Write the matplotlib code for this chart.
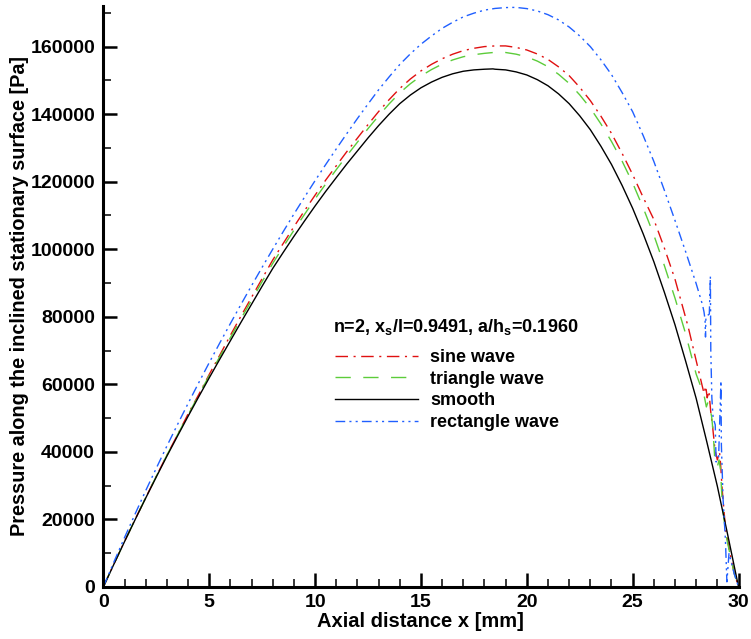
import matplotlib
matplotlib.use("Agg")
import matplotlib.pyplot as plt
from matplotlib.ticker import MultipleLocator

plt.rcParams["font.family"] = ["Liberation Sans", "DejaVu Sans"]
plt.rcParams["font.weight"] = "bold"
plt.rcParams["mathtext.fontset"] = "custom"
plt.rcParams["mathtext.rm"] = "Liberation Sans:bold"
plt.rcParams["mathtext.bf"] = "Liberation Sans:bold"

# smooth surface
x_smooth = [0, 0.5, 1, 1.5, 2, 2.5, 3, 3.5, 4, 4.5, 5, 5.5, 6, 6.5, 7, 7.5, 8, 8.5, 9, 9.5,
            10, 10.5, 11, 11.5, 12, 12.5, 13, 13.5, 14, 14.5, 15, 15.5, 16, 16.5, 17, 17.5,
            18, 18.4, 18.5, 19, 19.5, 20, 20.5, 21, 21.5, 22, 22.5, 23, 23.5, 24, 24.5,
            25, 25.5, 26, 26.5, 27, 27.5, 28, 28.5, 29, 29.5, 30]
p_smooth = [0, 6750, 13400, 19900, 26300, 32550, 38700, 44650, 50500, 56250, 61900, 67450,
            72900, 78350, 83700, 89050, 94300, 99100, 103800, 108350, 112800, 117100,
            121200, 125250, 129100, 132950, 136600, 140000, 143100, 145650, 147800, 149500,
            150900, 151950, 152700, 153100, 153300, 153400, 153300, 153100, 152500, 151600,
            150200, 148400, 146000, 143100, 139500, 135400, 130500, 125100, 118900, 112100,
            104500, 96300, 87200, 77600, 66900, 55800, 43000, 29800, 15100, 0]

# sine wave texture
x_sine = [0, 0.5, 1, 1.5, 2, 2.5, 3, 3.5, 4, 4.5, 5, 5.5, 6, 6.5, 7, 7.5, 8, 8.5, 9, 9.5,
          10, 10.5, 11, 11.5, 12, 12.5, 13, 13.5, 14, 14.5, 15, 15.5, 16, 16.5, 17, 17.5,
          18, 18.5, 19, 19.5, 20, 20.5, 21, 21.5, 22, 22.5, 23, 23.5, 24, 24.5, 25, 25.5,
          26, 26.5, 27, 27.5, 27.66, 28, 28.37, 28.45, 28.52, 28.6, 28.7, 28.76, 28.89,
          29.0, 29.1, 29.15, 29.23, 29.39, 29.6, 29.8, 30]
p_sine = [0, 6800, 13450, 20000, 26400, 32750, 39000, 45000, 51200, 56900, 62900, 68650,
          74500, 80200, 85750, 91300, 96800, 101750, 106650, 111400, 116000, 120450,
          124700, 128900, 132900, 136900, 140750, 144300, 147600, 150400, 152800, 154750,
          156400, 157750, 158800, 159500, 160000, 160200, 160200, 159750, 159000, 157800,
          156200, 154000, 151400, 147950, 144000, 139400, 134300, 128400, 122100, 115300,
          108800, 100300, 91100, 79800, 76000, 67000, 57300, 59500, 56000, 58000, 51000,
          48400, 40500, 37600, 40000, 36600, 28700, 16900, 9800, 4000, 0]

# triangle wave texture
x_tri = [0, 0.5, 1, 1.5, 2, 2.5, 3, 3.5, 4, 4.5, 5, 5.5, 6, 6.5, 7, 7.5, 8, 8.5, 9, 9.5,
         10, 10.5, 11, 11.5, 12, 12.5, 13, 13.5, 14, 14.5, 15, 15.5, 16, 16.5, 17, 17.5,
         18, 18.5, 19, 19.5, 20, 20.5, 21, 21.5, 22, 22.5, 23, 23.5, 24, 24.5, 25, 25.5,
         26, 26.5, 27, 27.5, 27.66, 28, 28.37, 28.48, 28.56, 28.64, 28.73, 28.8, 28.89,
         29.0, 29.08, 29.15, 29.23, 29.39, 29.6, 29.8, 30]
p_tri = [0, 6780, 13430, 19960, 26420, 32750, 39000, 45000, 50900, 56750, 62550, 68200,
         73800, 79400, 84900, 90400, 95800, 100750, 105600, 110300, 114900, 119300,
         123550, 127700, 131700, 135700, 139500, 143050, 146300, 149000, 151300, 153200,
         154800, 156050, 157000, 157600, 158000, 158300, 158250, 157750, 156950, 155700,
         154050, 151800, 149100, 145700, 141800, 137100, 131900, 126100, 119600, 112200,
         104200, 95100, 85500, 75000, 71100, 63000, 56800, 53300, 54800, 53300, 50400,
         46000, 36600, 35600, 37600, 34600, 24800, 15900, 9600, 3900, 0]

# rectangle wave texture
x_rect = [0, 0.5, 1, 1.5, 2, 2.5, 3, 3.5, 4, 4.5, 5, 5.5, 6, 6.5, 7, 7.5, 8, 8.5, 9, 9.5,
          10, 10.5, 11, 11.5, 12, 12.5, 13, 13.5, 14, 14.5, 15, 15.5, 16, 16.5, 17, 17.5,
          18, 18.5, 19, 19.3, 19.5, 20, 20.5, 21, 21.5, 22, 22.5, 23, 23.5, 24, 24.5, 25,
          25.5, 26, 26.5, 27, 27.5, 28, 28.3, 28.37, 28.42, 28.44, 28.46, 28.62, 28.67,
          28.69, 28.74, 28.8, 28.9, 28.94, 29.06, 29.17, 29.19, 29.27, 29.38, 29.45,
          29.55, 29.8, 30]
p_rect = [0, 7400, 14600, 21600, 28500, 35150, 41700, 48050, 54300, 60400, 66400, 72250,
          78000, 83650, 89200, 94650, 100000, 105250, 110400, 115400, 120300, 125050,
          129700, 134250, 138700, 143000, 147200, 151050, 154700, 157850, 160700, 163150,
          165400, 167200, 168800, 169900, 170800, 171300, 171550, 171600, 171600, 171250,
          170550, 169450, 167900, 165800, 163150, 160000, 156100, 151700, 146400, 140700,
          133600, 126000, 117400, 108500, 99300, 89800, 83500, 81400, 79000, 74000, 80000,
          80800, 92000, 70000, 56000, 50000, 48000, 37000, 38500, 61000, 42000, 26000,
          14000, 1500, 10000, 3800, 0]

legend_title = r"n=2, x$_\mathrm{s}$/l=0.9491, a/h$_\mathrm{s}$=0.1960"

fig = plt.figure(figsize=(7.51, 6.39), dpi=100)
ax = fig.add_axes([0.1376, 0.0815, 0.8458, 0.909])

ax.plot(x_sine, p_sine, color="#e01010", lw=1.0, ls=(0, (9, 4, 1.5, 4)), label="sine wave")
ax.plot(x_tri, p_tri, color="#5ccc3a", lw=1.0, ls=(0, (11, 9)), label="triangle wave")
ax.plot(x_smooth, p_smooth, color="black", lw=1.0, label="smooth")
ax.plot(x_rect, p_rect, color="#1f5fff", lw=1.0, ls=(0, (7, 3, 1.5, 3, 1.5, 3)),
        label="rectangle wave")

ax.set_xlim(0, 30)
ax.set_ylim(0, 172000)
ax.xaxis.set_major_locator(MultipleLocator(5))
ax.xaxis.set_minor_locator(MultipleLocator(1))
ax.yaxis.set_major_locator(MultipleLocator(20000))
ax.yaxis.set_minor_locator(MultipleLocator(10000))

for side in ["top", "right"]:
    ax.spines[side].set_visible(False)
for side in ["left", "bottom"]:
    ax.spines[side].set_linewidth(2.2)

ax.tick_params(which="major", direction="in", length=10, width=1.8, labelsize=14)
ax.tick_params(which="minor", direction="in", length=5.5, width=1.1)
ax.tick_params(axis="y", which="major", pad=6)
ax.tick_params(axis="x", which="major", pad=5)
for lab in ax.get_xticklabels() + ax.get_yticklabels():
    lab.set_fontweight("bold")

ax.set_xlabel("Axial distance x [mm]", fontsize=14.5, fontweight="bold", labelpad=1)
ax.set_ylabel("Pressure along the inclined stationary surface [Pa]", fontsize=14.3,
              fontweight="bold", labelpad=1)

ax.text(0.3616, 0.4471, legend_title, transform=ax.transAxes, fontsize=13,
        fontweight="bold", va="center", ha="left")
ax.legend(loc="upper left", bbox_to_anchor=(0.365, 0.4096), frameon=False,
          fontsize=13, handlelength=4.6, handletextpad=0.66, labelspacing=0.26,
          borderaxespad=0, borderpad=0)

fig.savefig("out.png", dpi=100)
